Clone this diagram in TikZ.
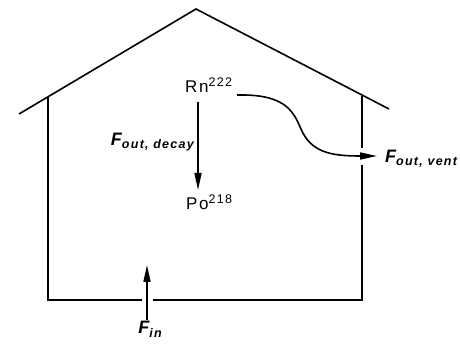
\documentclass[tikz,border=0pt]{standalone}
\usepackage{fontspec}
\setmainfont{Liberation Sans}
\newfontfamily\labfont[LetterSpace=10]{Liberation Sans}
\usetikzlibrary{arrows.meta}
\tikzset{
  x=1pt,y=-1pt,
  wall/.style={line width=1.6pt},
  flow/.style={line width=1.6pt,-{Triangle[length=17pt,width=7pt]}},
  chem/.style={inner sep=0pt,font=\labfont\fontsize{17}{17}\selectfont},
  flab/.style={inner sep=0pt,font=\labfont\bfseries\itshape\fontsize{18}{18}\selectfont},
}
\newcommand{\supnum}[1]{\raisebox{6pt}{\fontsize{12.5}{12.5}\selectfont #1}}
\newcommand{\subtxt}[1]{\raisebox{-3pt}{\fontsize{12.5}{12.5}\selectfont\bfseries\itshape #1}}
\begin{document}
\begin{tikzpicture}
\useasboundingbox (0,0) rectangle (460,344);
% house
\draw[wall] (19,114) -- (196,9) -- (389,109);
\draw[wall] (48,97) -- (48,300) -- (142,300);
\draw[wall] (153,300) -- (362,300) -- (362,165);
\draw[wall] (362,148) -- (362,96);
% nodes
\node[chem,anchor=base west] (rn) at (185,93) {Rn\supnum{222}};
\node[chem,anchor=base west] (po) at (186,210) {Po\supnum{218}};
\node[flab,anchor=base east] (fdec) at (194,146) {F\subtxt{out, decay}};
\node[flab,anchor=base west] (fvent) at (385,163) {F\subtxt{out, vent}};
\node[flab,anchor=base] (fin) at (150,334) {F\subtxt{in}};
% connectors
\coordinate (d1) at (198,102);
\coordinate (d2) at (198,190);
\coordinate (v1) at (237,95);
\coordinate (v2) at (377,156);
\coordinate (i1) at (147,320);
\coordinate (i2) at (147,265);
\draw[flow] (d1) -- (d2);
\draw[flow] (v1) .. controls (284,94) and (293,110) .. (301,129) .. controls (311,152) and (330,156) .. (v2);
\draw[flow] (i1) -- (i2);
\end{tikzpicture}
\end{document}
